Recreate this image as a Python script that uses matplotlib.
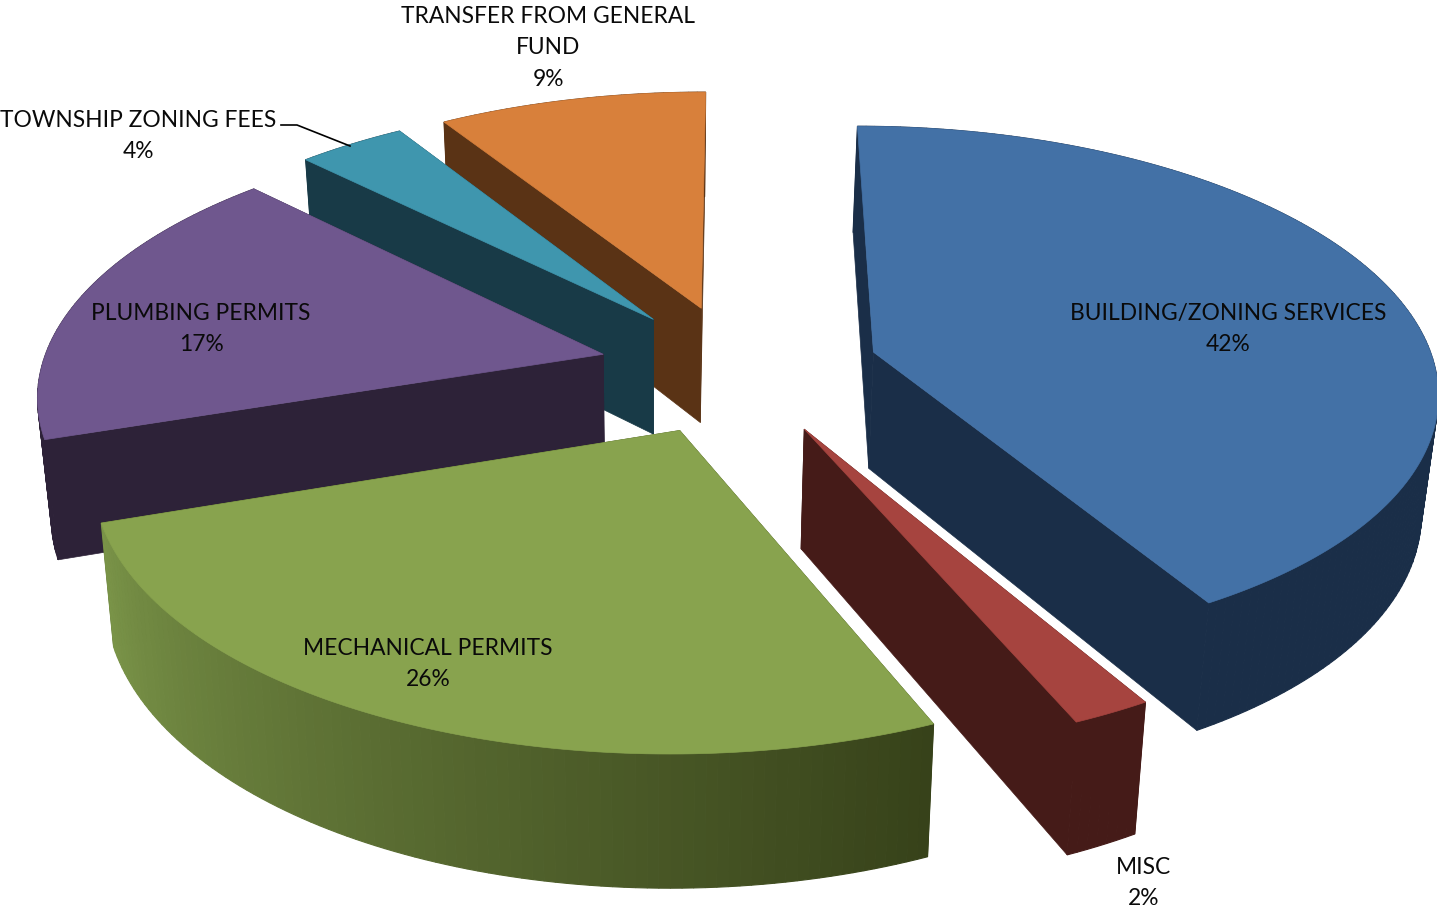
import numpy as np
import matplotlib
matplotlib.use("Agg")
import matplotlib.pyplot as plt
from matplotlib.colors import to_rgb

# clockwise from 12 o'clock
categories = ["BUILDING/ZONING SERVICES", "MISC", "MECHANICAL PERMITS",
              "PLUMBING PERMITS", "TOWNSHIP ZONING FEES", "TRANSFER FROM GENERAL\nFUND"]
values = [41.6, 1.95, 26.3, 17.6, 3.6, 8.95]
shown_pct = [42, 2, 26, 17, 4, 9]

top_colors = ["#4371a6", "#a6443f", "#88a34e", "#6f578e", "#3f96ae", "#d8803b"]
cut_colors = ["#1a2e48", "#451b18", "#3a4518", "#2d2238", "#183a47", "#5a3315"]
# wall colour at the start and end of each slice's arc
wall_colors = [("#1a2e48", "#1a2e48"), ("#451b18", "#451b18"), ("#37421a", "#7a9448"),
               ("#2d2238", "#2d2238"), ("#183a47", "#183a47"), ("#5a3315", "#5a3315")]
draw_order = [5, 4, 3, 0, 1, 2]
label_pos = [(1228, 329), (1144, 883), (428, 664), (201, 329), (138, 136), (548, 48)]

# projection of the tilted pie onto the pixel grid
CX, CY = 739.0, 369.0
RX, RY = 562.0, 261.0
PERSP = 0.1363
EXPLODE = 0.25


def project(u, v):
    s = 1.0 / (1.0 + PERSP * v)
    return CX + RX * u * s, CY - RY * v * s


def drop(x, y):
    # where a point of the top face lands on the bottom face
    return 660 + (x - 660) * 0.978, y * 1.0447 + 100.5


def mix(c0, c1, t):
    a, b = np.array(to_rgb(c0)), np.array(to_rgb(c1))
    return tuple(a + (b - a) * t)


fig = plt.figure(figsize=(14.37, 9.15), dpi=100)
ax = fig.add_axes([0, 0, 1, 1])
ax.set_xlim(0, 1437)
ax.set_ylim(915, 0)
ax.axis("off")

edges = np.deg2rad(np.cumsum([0] + values) * 3.6)

for i in draw_order:
    t0, t1 = edges[i], edges[i + 1]
    mid = (t0 + t1) / 2
    u0, v0 = EXPLODE * np.sin(mid), EXPLODE * np.cos(mid)
    th = np.linspace(t0, t1, max(int((t1 - t0) / np.deg2rad(1.0)), 2) + 1)
    rim_x, rim_y = project(u0 + np.sin(th), v0 + np.cos(th))
    ax_x, ax_y = project(u0, v0)
    low_x, low_y = drop(rim_x, rim_y)
    bx, by = drop(ax_x, ax_y)

    # the two cut faces
    for px, py, qx, qy in [(rim_x[0], rim_y[0], low_x[0], low_y[0]), (rim_x[-1], rim_y[-1], low_x[-1], low_y[-1])]:
        ax.fill([ax_x, px, qx, bx], [ax_y, py, qy, by], color=cut_colors[i], lw=0.5)

    # outer wall, one facet per step so the shading can run along it
    for j in range(len(th) - 1):
        c = mix(wall_colors[i][0], wall_colors[i][1], j / max(len(th) - 2, 1))
        ax.fill([rim_x[j], rim_x[j + 1], low_x[j + 1], low_x[j]],
                [rim_y[j], rim_y[j + 1], low_y[j + 1], low_y[j]], color=c, lw=0.8)

    ax.fill(np.r_[ax_x, rim_x], np.r_[ax_y, rim_y], color=top_colors[i], lw=0.5)

for name, pct, (lx, ly) in zip(categories, shown_pct, label_pos):
    ax.text(lx, ly, f"{name}\n{pct}%", ha="center", va="center", fontsize=16.4,
            family="Lato", color="#0a0a0a", linespacing=1.62)

# leader line for the township label
ax.plot([281, 297, 350], [125, 125, 146], color="black", lw=1.2)

fig.savefig("out.png", dpi=100)
